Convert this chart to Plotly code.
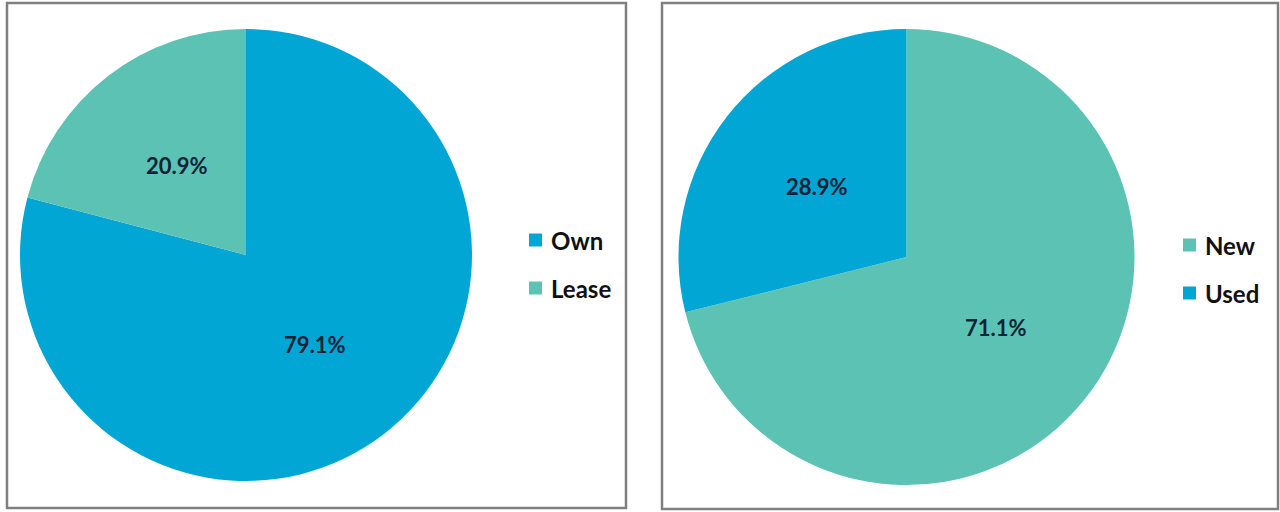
import math
import plotly.graph_objects as go

# Data
own_labels = ["Own", "Lease"]
own_values = [79.1, 20.9]
cond_labels = ["New", "Used"]
cond_values = [71.1, 28.9]

BLUE = "#02A6D4"
TEAL = "#5CC3B4"
own_colors = [BLUE, TEAL]
cond_colors = [TEAL, BLUE]

W, H = 1280, 512

# pixel geometry of each panel: frame, pie centre/radius, legend anchor
panels = [
    dict(labels=own_labels, values=own_values, colors=own_colors,
         frame=(7, 3, 626, 508), cx=246, cy=255, r=226, legend=(535, 240)),
    dict(labels=cond_labels, values=cond_values, colors=cond_colors,
         frame=(662, 3, 1278, 509), cx=906.5, cy=257, r=228, legend=(1189, 245)),
]

fig = go.Figure()
shapes = []
annotations = []

def px(x):
    return x / W

def py(y):
    return 1 - y / H

for p in panels:
    cx, cy, r = p["cx"], p["cy"], p["r"]
    fig.add_trace(go.Pie(
        labels=p["labels"], values=p["values"],
        marker=dict(colors=p["colors"], line=dict(width=0)),
        sort=False, direction="clockwise", rotation=0,
        textinfo="none", hoverinfo="label+percent",
        showlegend=False,
        domain=dict(x=[px(cx - r), px(cx + r)], y=[py(cy + r), py(cy - r)]),
    ))

    # percentage labels at half radius on each slice's mid-angle
    total = sum(p["values"])
    cum = 0.0
    for v in p["values"]:
        mid = (cum + v / 2) / total * 2 * math.pi
        cum += v
        lx = cx + 0.5 * r * math.sin(mid)
        ly = cy - 0.5 * r * math.cos(mid)
        annotations.append(dict(
            x=px(lx), y=py(ly), xref="paper", yref="paper",
            text=f"<b>{v:.1f}%</b>", showarrow=False,
            font=dict(family="Lato", size=22, color="#0f2236"),
            xanchor="center", yanchor="middle",
        ))

    # frame around the panel
    x0, y0, x1, y1 = p["frame"]
    shapes.append(dict(type="rect", xref="paper", yref="paper",
                       x0=px(x0), x1=px(x1), y0=py(y1), y1=py(y0),
                       line=dict(color="#808080", width=2.5),
                       fillcolor="rgba(0,0,0,0)", layer="above"))

    # legend: coloured square + bold label per slice
    lx0, ly0 = p["legend"]
    for i, (lab, col) in enumerate(zip(p["labels"], p["colors"])):
        yy = ly0 + i * 48
        shapes.append(dict(type="rect", xref="paper", yref="paper",
                           x0=px(lx0 - 6), x1=px(lx0 + 7),
                           y0=py(yy + 6.5), y1=py(yy - 6.5),
                           line=dict(width=0), fillcolor=col))
        annotations.append(dict(
            x=px(lx0 + 14), y=py(yy), xref="paper", yref="paper",
            text=f"<b>{lab}</b>", showarrow=False,
            font=dict(family="Lato", size=24, color="#111111"),
            xanchor="left", yanchor="middle",
        ))

fig.update_layout(
    width=W, height=H,
    margin=dict(l=0, r=0, t=0, b=0),
    paper_bgcolor="white", plot_bgcolor="white",
    shapes=shapes, annotations=annotations,
)

fig.write_html("out.html")
